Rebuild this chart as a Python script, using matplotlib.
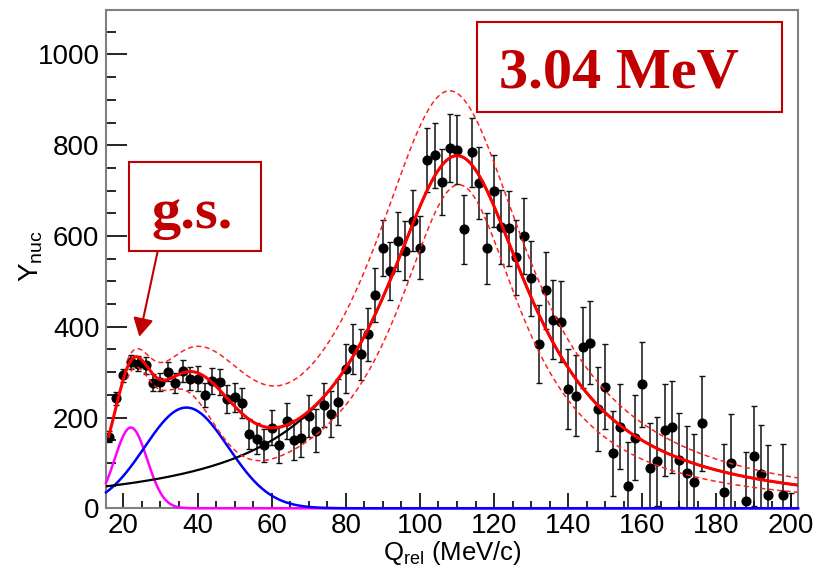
import numpy as np
import matplotlib
matplotlib.use('Agg')
from matplotlib import pyplot as plt
from matplotlib.patches import Rectangle
from matplotlib.ticker import MultipleLocator

plt.rcParams['font.family'] = 'Liberation Sans'
plt.rcParams['mathtext.fontset'] = 'custom'
plt.rcParams['mathtext.rm'] = 'Liberation Sans'
plt.rcParams['mathtext.it'] = 'Liberation Sans:italic'

# relative momentum bins (MeV/c), yields and statistical errors
q_bins = [16, 18, 20, 22, 24, 26, 28, 30, 32, 34, 36, 38, 40, 42, 44, 46, 48, 50,
          52, 54, 56, 58, 60, 62, 64, 66, 68, 70, 72, 74, 76, 78, 80, 82, 84, 86,
          88, 90, 92, 94, 96, 98, 100, 102, 104, 106, 108, 110, 112, 114, 116, 118,
          120, 122, 124, 126, 128, 130, 132, 134, 136, 138, 140, 142, 144, 146, 148,
          150, 152, 154, 156, 158, 160, 162, 164, 166, 168, 170, 172, 174, 176,
          182, 184, 188, 190, 192, 194, 198, 200]
yields = [158, 242, 293, 322, 319, 315, 277, 279, 301, 277, 303, 286, 286, 250, 281, 278, 241, 245,
          232, 163, 153, 139, 178, 139, 193, 151, 155, 203, 171, 228, 208, 235, 307, 352, 339, 383,
          470, 573, 523, 588, 567, 634, 574, 767, 778, 719, 794, 790, 615, 784, 717, 573,
          699, 620, 617, 553, 600, 507, 362, 480, 416, 411, 263, 248, 355, 365, 219,
          268, 121, 180, 50, 156, 273, 88, 104, 172, 179, 106, 78, 59, 187,
          35, 99, 16, 115, 75, 29, 29, -75]
errors = [12, 15, 15, 16, 16, 18, 18, 20, 21, 22, 24, 26, 27, 27, 29, 29, 31, 32,
          32, 33, 34, 36, 38, 40, 40, 44, 43, 46, 47, 49, 50, 51, 54, 55, 56, 58,
          59, 62, 64, 65, 65, 68, 69, 70, 72, 72, 74, 76, 76, 77, 79, 78,
          80, 81, 82, 83, 83, 83, 86, 85, 88, 89, 89, 89, 89, 92, 92,
          94, 94, 94, 95, 94, 94, 99, 98, 101, 102, 103, 103, 104, 105,
          106, 109, 109, 110, 108, 110, 112, 108]

# fit components: [amplitude, centroid, width]
gs_state = [178, 22.0, 4.4]
second_state = [222, 37.0, 11.3]
main_state = [777, 110.0, 24.4]

# fit uncertainty band
upper_gs = [150, 22.0, 4.4]
upper_second = [240, 38.0, 13.0]
upper_main = [920, 108.0, 26.3]
lower_gs = [190, 22.0, 4.4]
lower_second = [210, 35.0, 9.0]
lower_main = [713, 110.5, 20.9]


def gauss(q, p):
    return p[0] * np.exp(-0.5 * ((q - p[1]) / p[2]) ** 2)


def lorentz(q, p):
    return p[0] / (1 + ((q - p[1]) / p[2]) ** 2)


x_min, x_max = 15.3, 202.0
q = np.linspace(x_min, x_max, 900)
q_fit = np.linspace(16, x_max, 900)
q_band = np.linspace(21, x_max, 900)

fig = plt.figure(figsize=(8.25, 5.68), dpi=100)
ax = fig.add_axes([0.1285, 0.1051, 0.8388, 0.8773])

ax.errorbar(q_bins, yields, yerr=errors, fmt='o', color='black', ms=6.3,
            ecolor='#111111', elinewidth=1.1, capsize=2.5, capthick=1.0, zorder=2)

ax.plot(q, gauss(q, gs_state), color='#ff00ff', lw=1.8, zorder=3, clip_on=False)
ax.plot(q, gauss(q, second_state), color='#0000ff', lw=1.8, zorder=3, clip_on=False)
ax.plot(q, lorentz(q, main_state), color='black', lw=1.6, zorder=3)

total = gauss(q_fit, gs_state) + gauss(q_fit, second_state) + lorentz(q_fit, main_state)
upper = gauss(q_band, upper_gs) + gauss(q_band, upper_second) + lorentz(q_band, upper_main)
lower = gauss(q_band, lower_gs) + gauss(q_band, lower_second) + lorentz(q_band, lower_main)
ax.plot(q_band, upper, color='#ff2020', lw=1.1, ls=(0, (3.3, 2.2)), zorder=4)
ax.plot(q_band, lower, color='#ff2020', lw=1.1, ls=(0, (3.3, 2.2)), zorder=4)
ax.plot(q_fit, total, color='#ff0000', lw=2.2, zorder=4)

ax.set_xlim(x_min, x_max)
ax.set_ylim(0, 1098)
ax.xaxis.set_major_locator(MultipleLocator(20))
ax.xaxis.set_minor_locator(MultipleLocator(5))
ax.yaxis.set_major_locator(MultipleLocator(200))
ax.yaxis.set_minor_locator(MultipleLocator(50))
ax.tick_params(which='both', direction='in', width=1.2, color='black', labelsize=20)
ax.tick_params(axis='x', which='major', length=10.8, pad=3.5)
ax.tick_params(axis='x', which='minor', length=5)
ax.tick_params(axis='y', which='major', length=15, pad=4.7)
ax.tick_params(axis='y', which='minor', length=7)
for side in ax.spines.values():
    side.set_color('#808080')
    side.set_linewidth(1.5)

fig.text(452 / 825, 1 - 560 / 568, r'Q$_{\rm rel}$ (MeV/c)', fontsize=18.5,
         ha='center', va='baseline')
fig.text(45 / 825, 1 - 256 / 568, r'Y$_{\rm nuc}$', fontsize=20, rotation=90,
         ha='right', va='center')

# labelled boxes
dark_red = '#c00000'
ax.add_patch(Rectangle((0.536, 0.795), 0.441, 0.181, transform=ax.transAxes,
                       facecolor='white', edgecolor=dark_red, lw=1.5, zorder=5, clip_on=False))
ax.text(0.741, 0.845, '3.04 MeV', transform=ax.transAxes, ha='center', va='baseline',
        fontsize=42, fontweight='bold', family='Liberation Serif', color=dark_red, zorder=6)
ax.add_patch(Rectangle((0.0332, 0.516), 0.1908, 0.179, transform=ax.transAxes,
                       facecolor='white', edgecolor=dark_red, lw=1.5, zorder=5, clip_on=False))
ax.text(0.125, 0.5625, 'g.s.', transform=ax.transAxes, ha='center', va='baseline',
        fontsize=42, fontweight='bold', family='Liberation Serif', color=dark_red, zorder=6)
ax.annotate('', xy=(24.3, 378), xytext=(29.2, 565),
            arrowprops=dict(arrowstyle='-|>,head_length=0.4,head_width=0.22', color=dark_red,
                            lw=1.5, mutation_scale=28, shrinkA=0, shrinkB=0), zorder=6)

fig.savefig('out.png', dpi=100)
